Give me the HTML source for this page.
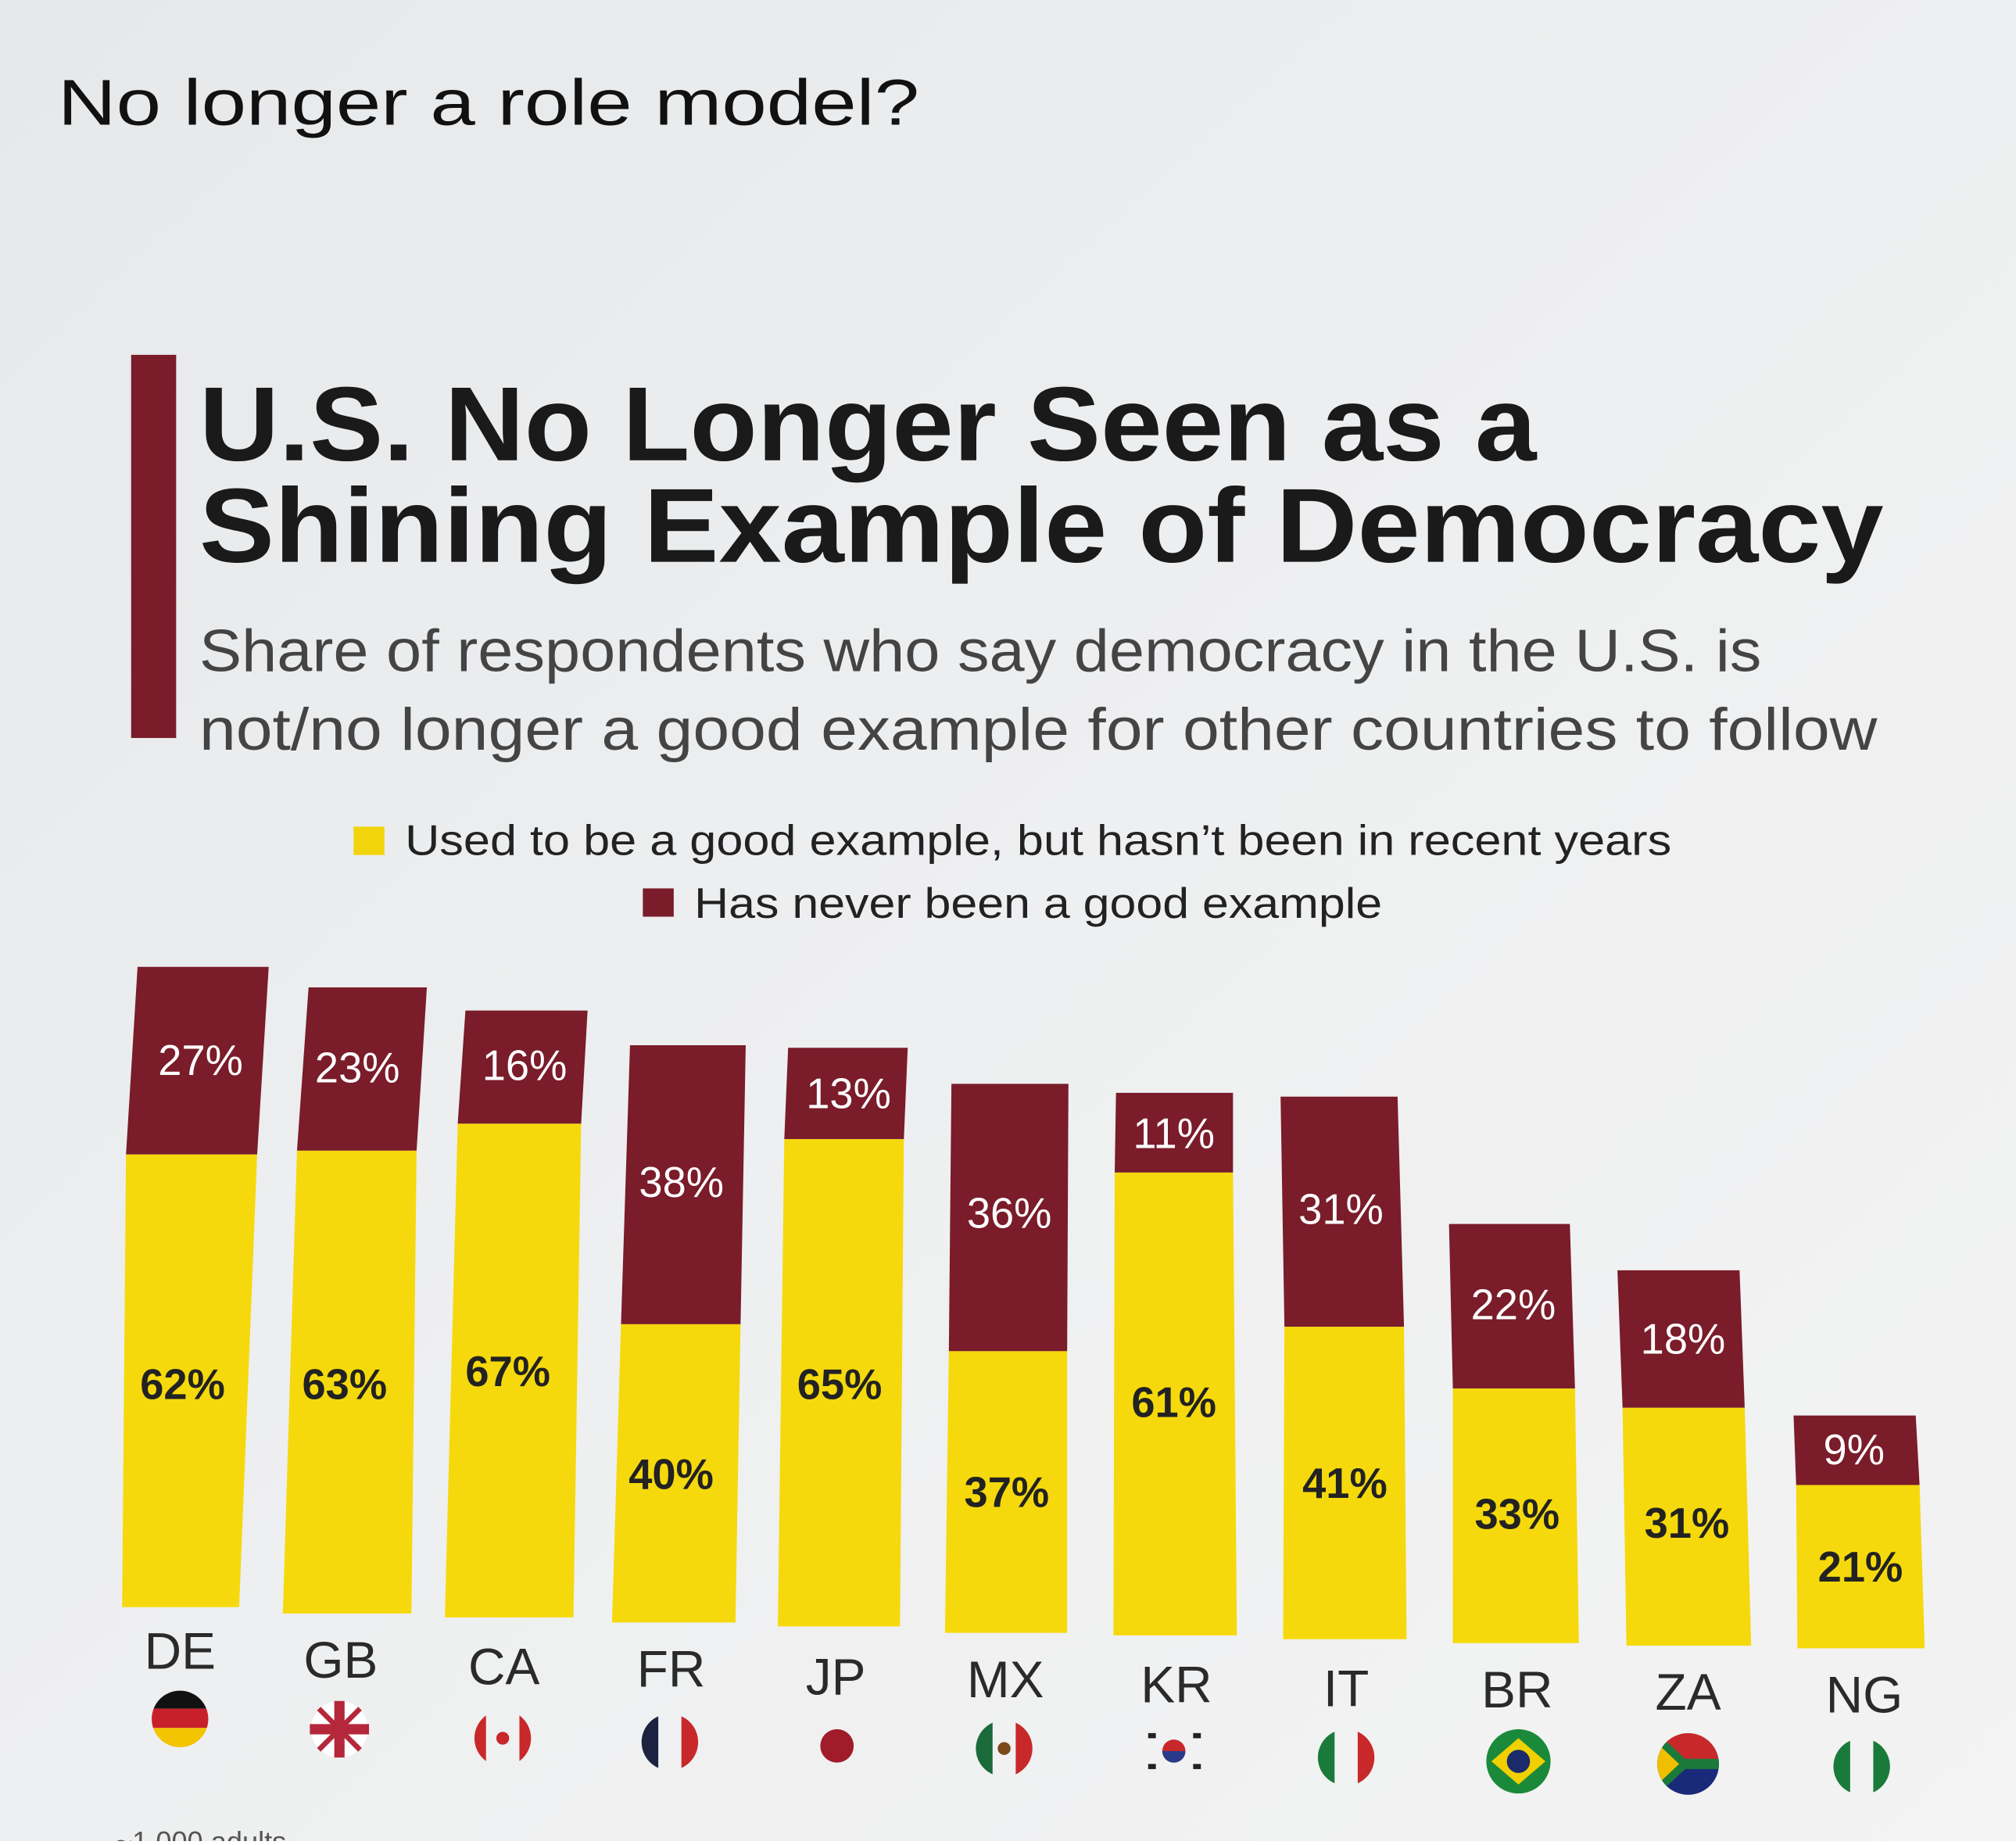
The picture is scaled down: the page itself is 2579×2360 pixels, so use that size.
<!DOCTYPE html>
<html><head><meta charset="utf-8">
<style>html,body{margin:0;padding:0;}body{width:2579px;height:2355px;overflow:hidden;}</style>
</head><body>
<svg width="2579" height="2355" viewBox="0 0 1568 1432" preserveAspectRatio="none" xmlns="http://www.w3.org/2000/svg" font-family="Liberation Sans, DejaVu Sans, sans-serif">
<defs>
<linearGradient id="bg" x1="0" y1="0" x2="1" y2="1">
<stop offset="0" stop-color="#e6e8ea"/><stop offset="0.5" stop-color="#eeeff0"/><stop offset="1" stop-color="#f3f3f3"/>
</linearGradient>
</defs>
<rect width="1568" height="1432" fill="url(#bg)"/>
<text x="45" y="97" font-size="50" fill="#111" textLength="670" lengthAdjust="spacingAndGlyphs">No longer a role model?</text>
<rect x="102" y="276" width="35" height="298" fill="#7a1c2a"/>
<text x="155" y="358" font-size="82" font-weight="bold" fill="#1a1a1a" textLength="1040" lengthAdjust="spacingAndGlyphs">U.S. No Longer Seen as a</text>
<text x="155" y="437" font-size="82" font-weight="bold" fill="#1a1a1a" textLength="1310" lengthAdjust="spacingAndGlyphs">Shining Example of Democracy</text>
<text x="155" y="522" font-size="46" fill="#444" textLength="1215" lengthAdjust="spacingAndGlyphs">Share of respondents who say democracy in the U.S. is</text>
<text x="155" y="583" font-size="46" fill="#444" textLength="1305" lengthAdjust="spacingAndGlyphs">not/no longer a good example for other countries to follow</text>
<rect x="275" y="643" width="24" height="22" fill="#f2d40c"/>
<text x="315" y="665" font-size="33" fill="#222" textLength="985" lengthAdjust="spacingAndGlyphs">Used to be a good example, but hasn’t been in recent years</text>
<rect x="500" y="691" width="24" height="22" fill="#7a1c2a"/>
<text x="540" y="714" font-size="33" fill="#222" textLength="535" lengthAdjust="spacingAndGlyphs">Has never been a good example</text>
<g font-size="33">
<polygon points="107,752 209,752 200,898 98,898" fill="#7a1c2a"/><polygon points="98,898 200,898 186,1250 95,1250" fill="#f5d90c"/>
<polygon points="240,768 332,768 324,895 231,895" fill="#7a1c2a"/><polygon points="231,895 324,895 320,1255 220,1255" fill="#f5d90c"/>
<polygon points="362,786 457,786 452,874 356,874" fill="#7a1c2a"/><polygon points="356,874 452,874 446,1258 346,1258" fill="#f5d90c"/>
<polygon points="490,813 580,813 576,1030 483,1030" fill="#7a1c2a"/><polygon points="483,1030 576,1030 572,1262 476,1262" fill="#f5d90c"/>
<polygon points="613,815 706,815 703,886 610,886" fill="#7a1c2a"/><polygon points="610,886 703,886 700,1265 605,1265" fill="#f5d90c"/>
<polygon points="740,843 831,843 830,1051 738,1051" fill="#7a1c2a"/><polygon points="738,1051 830,1051 830,1270 735,1270" fill="#f5d90c"/>
<polygon points="868,850 959,850 959,912 867,912" fill="#7a1c2a"/><polygon points="867,912 959,912 962,1272 866,1272" fill="#f5d90c"/>
<polygon points="996,853 1087,853 1092,1032 999,1032" fill="#7a1c2a"/><polygon points="999,1032 1092,1032 1094,1275 998,1275" fill="#f5d90c"/>
<polygon points="1127,952 1221,952 1225,1080 1130,1080" fill="#7a1c2a"/><polygon points="1130,1080 1225,1080 1228,1278 1130,1278" fill="#f5d90c"/>
<polygon points="1258,988 1353,988 1357,1095 1262,1095" fill="#7a1c2a"/><polygon points="1262,1095 1357,1095 1362,1280 1265,1280" fill="#f5d90c"/>
<polygon points="1395,1101 1490,1101 1493,1155 1397,1155" fill="#7a1c2a"/><polygon points="1397,1155 1493,1155 1497,1282 1398,1282" fill="#f5d90c"/>
<g fill="#fff" text-anchor="middle">
<text x="156" y="836">27%</text><text x="278" y="842">23%</text><text x="408" y="840">16%</text><text x="530" y="931">38%</text>
<text x="660" y="862">13%</text><text x="785" y="955">36%</text><text x="913" y="893">11%</text><text x="1043" y="952">31%</text>
<text x="1177" y="1026">22%</text><text x="1309" y="1053">18%</text><text x="1442" y="1139">9%</text>
</g>
<g fill="#222" text-anchor="middle" font-weight="bold">
<text x="142" y="1088">62%</text><text x="268" y="1088">63%</text><text x="395" y="1078">67%</text><text x="522" y="1158">40%</text>
<text x="653" y="1088">65%</text><text x="783" y="1172">37%</text><text x="913" y="1102">61%</text><text x="1046" y="1165">41%</text>
<text x="1180" y="1189">33%</text><text x="1312" y="1196">31%</text><text x="1447" y="1230">21%</text>
</g>
<g fill="#2a2a2a" text-anchor="middle" font-size="40">
<text x="140" y="1298">DE</text><text x="265" y="1305">GB</text><text x="392" y="1310">CA</text><text x="522" y="1312">FR</text>
<text x="650" y="1318">JP</text><text x="782" y="1320">MX</text><text x="915" y="1324">KR</text><text x="1047" y="1327">IT</text>
<text x="1180" y="1328">BR</text><text x="1313" y="1330">ZA</text><text x="1450" y="1332">NG</text>
</g>
</g>
<g>
<clipPath id="c1"><circle cx="140" cy="1337" r="22"/></clipPath>
<g clip-path="url(#c1)"><rect x="115" y="1313" width="50" height="16" fill="#111"/><rect x="115" y="1329" width="50" height="15" fill="#c8202a"/><rect x="115" y="1344" width="50" height="16" fill="#f3c400"/></g>
<circle cx="264" cy="1345" r="22" fill="#fff"/><rect x="241" y="1341" width="46" height="8" fill="#b5273a"/><rect x="260" y="1323" width="8" height="44" fill="#b5273a"/>
<line x1="248" y1="1329" x2="280" y2="1361" stroke="#b5273a" stroke-width="4"/><line x1="280" y1="1329" x2="248" y2="1361" stroke="#b5273a" stroke-width="4"/>
<clipPath id="c3"><circle cx="391" cy="1352" r="22"/></clipPath>
<g clip-path="url(#c3)"><rect x="365" y="1330" width="13" height="45" fill="#c8282a"/><rect x="404" y="1330" width="13" height="45" fill="#c8282a"/><circle cx="391" cy="1352" r="5" fill="#c8282a"/></g>
<clipPath id="c4"><circle cx="521" cy="1355" r="22"/></clipPath>
<g clip-path="url(#c4)"><rect x="495" y="1330" width="17" height="50" fill="#1c2340"/><rect x="530" y="1330" width="17" height="50" fill="#c8282a"/></g>
<circle cx="651" cy="1358" r="13" fill="#a01c2a"/>
<clipPath id="c6"><circle cx="781" cy="1360" r="22"/></clipPath>
<g clip-path="url(#c6)"><rect x="755" y="1335" width="17" height="50" fill="#1a6a3a"/><rect x="790" y="1335" width="17" height="50" fill="#c8282a"/><circle cx="781" cy="1360" r="5" fill="#7a4a1a"/></g>
<circle cx="913" cy="1362" r="9" fill="#c8282a"/><path d="M904,1362 a9,9 0 0 0 18,0z" fill="#2a3a8a"/>
<g fill="#222"><rect x="893" y="1348" width="6" height="4"/><rect x="928" y="1348" width="6" height="4"/><rect x="893" y="1372" width="6" height="4"/><rect x="928" y="1372" width="6" height="4"/></g>
<clipPath id="c8"><circle cx="1047" cy="1367" r="22"/></clipPath>
<g clip-path="url(#c8)"><rect x="1021" y="1342" width="17" height="50" fill="#1a7a3a"/><rect x="1056" y="1342" width="17" height="50" fill="#c8282a"/></g>
<circle cx="1181" cy="1370" r="25" fill="#1a8a3a"/><path d="M1160,1370 L1181,1352 L1202,1370 L1181,1388z" fill="#f0d000"/><circle cx="1181" cy="1370" r="9" fill="#1a2a6a"/>
<clipPath id="c10"><circle cx="1313" cy="1372" r="24"/></clipPath>
<g clip-path="url(#c10)"><rect x="1288" y="1347" width="50" height="25" fill="#c8282a"/><rect x="1288" y="1372" width="50" height="25" fill="#1a2a7a"/><path d="M1288,1347 L1315,1372 L1288,1397z" fill="#1a7a3a"/><path d="M1288,1355 L1306,1372 L1288,1389z" fill="#f0c000"/><rect x="1310" y="1368" width="30" height="8" fill="#1a7a3a"/></g>
<clipPath id="c11"><circle cx="1448" cy="1374" r="22"/></clipPath>
<g clip-path="url(#c11)"><rect x="1422" y="1350" width="17" height="50" fill="#1a7a3a"/><rect x="1457" y="1350" width="17" height="50" fill="#1a7a3a"/></g>
</g>
<text x="90" y="1440" font-size="22" fill="#555">~1,000 adults</text>
</svg>
</body></html>
